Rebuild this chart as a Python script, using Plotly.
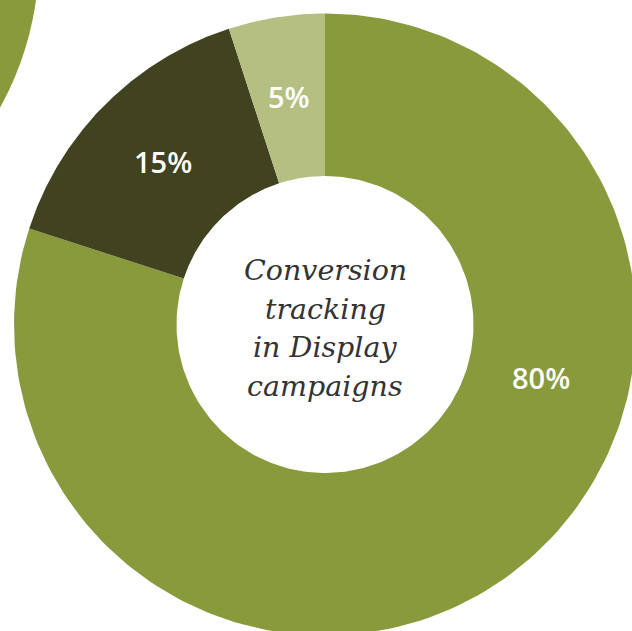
import numpy as np
import plotly.graph_objects as go

# Share of Display campaigns by conversion-tracking status
labels = ["80%", "15%", "5%"]
values = [80, 15, 5]
colors = ["#889A3C", "#414320", "#B5BF82"]
title_lines = ["Conversion", "tracking", "in Display", "campaigns"]

W, H = 632, 631
CX, CY = 325, 324.5          # donut centre in pixel space
R_OUT, R_IN = 311, 148.5     # outer / inner radius
LABEL_R = (R_OUT + R_IN) / 2
# label placement overrides: (degrees clockwise from 12 o'clock, radius)
LABEL_POS_OVERRIDE = {"80%": (104, 223)}


def polar(r, deg):
    t = np.radians(deg)
    return CX + r * np.sin(t), CY - r * np.cos(t)


fig = go.Figure()

# neighbouring donut peeking in from the top-left corner
NB_CX, NB_CY, NB_R = -272, -43, 311
fig.add_shape(type="circle", xref="x", yref="y",
              x0=NB_CX - NB_R, x1=NB_CX + NB_R, y0=NB_CY - NB_R, y1=NB_CY + NB_R,
              fillcolor="#889A3C", line_width=0, layer="below")

total = float(sum(values))
start = 0.0
for lab, val, col in zip(labels, values, colors):
    span = 360.0 * val / total
    a = np.linspace(start, start + span, 200)
    xo, yo = polar(R_OUT, a)
    xi, yi = polar(R_IN, a[::-1])
    fig.add_trace(go.Scatter(
        x=np.concatenate([xo, xi, xo[:1]]),
        y=np.concatenate([yo, yi, yo[:1]]),
        mode="lines", fill="toself", fillcolor=col,
        line=dict(width=0, color=col), hoverinfo="skip", showlegend=False))
    ang, rad = LABEL_POS_OVERRIDE.get(lab, (start + span / 2, LABEL_R))
    lx, ly = polar(rad, ang)
    fig.add_annotation(x=lx, y=ly - 1, text=lab, showarrow=False,
                       font=dict(family="Open Sans", size=29, color="white",
                                 weight=600),
                       xanchor="center", yanchor="middle")
    start += span

# centre caption
line_gap = 38.5
for i, line in enumerate(title_lines):
    y = CY - 54 + i * line_gap
    fig.add_annotation(x=CX, y=y, text=f"<i>{line}</i>", showarrow=False,
                       font=dict(family="DejaVu Serif", size=28.5, color="#333333"),
                       xanchor="center", yanchor="middle")

fig.update_xaxes(range=[0, W], visible=False, fixedrange=True)
fig.update_yaxes(range=[H, 0], visible=False, fixedrange=True)
fig.update_layout(width=W, height=H, margin=dict(l=0, r=0, t=0, b=0),
                  paper_bgcolor="white", plot_bgcolor="white", showlegend=False)

fig.write_html("out.html")
